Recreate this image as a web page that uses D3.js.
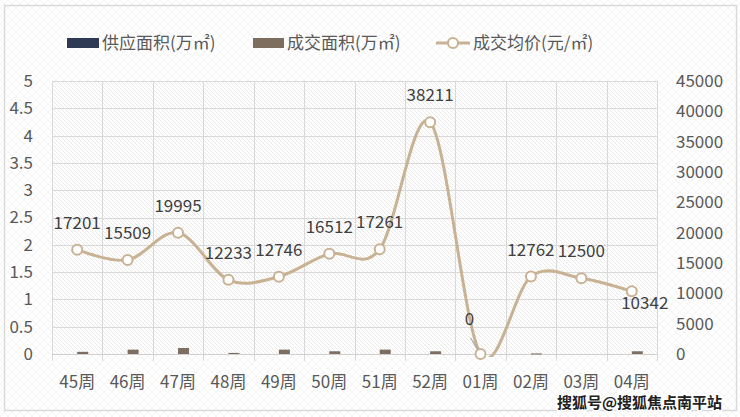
<!DOCTYPE html>
<html><head><meta charset="utf-8">
<script src="https://cdn.jsdelivr.net/npm/d3@7/dist/d3.min.js"></script>
<style>
html,body{margin:0;padding:0;background:#fff;}
svg{display:block;font-family:"Noto Sans CJK SC","Noto Sans",sans-serif;}
</style></head>
<body>
<svg id="chart" width="740" height="417"></svg>
<script>
// ---- data ----
const weeks = ["45周","46周","47周","48周","49周","50周","51周","52周","01周","02周","03周","04周"];
const supplyArea = [0,0,0,0,0,0,0,0,0,0,0,0];
const dealArea = [0.04,0.08,0.11,0.02,0.08,0.05,0.08,0.05,0,0.01,0,0.05];
const avgPrice = [17201,15509,19995,12233,12746,16512,17261,38211,0,12762,12500,10342];
const leftTicks = [0,0.5,1,1.5,2,2.5,3,3.5,4,4.5,5];
const rightTicks = [0,5000,10000,15000,20000,25000,30000,35000,40000,45000];
const seriesNames = ["供应面积(万㎡)","成交面积(万㎡)","成交均价(元/㎡)"];

// ---- layout ----
const W=740,H=417;
const plot={l:52,r:657,t:81,b:354};
const colSupply="#2E3A54", colDeal="#7D6E60", colLine="#C9B293";
const txt="#595959", lblCol="#404040", grid="#D9D9D9";

const svg=d3.select("#chart");
const defs=svg.append("defs");
const p1=defs.append("pattern").attr("id","cross").attr("patternUnits","userSpaceOnUse").attr("width",8).attr("height",8);
p1.append("rect").attr("width",8).attr("height",8).attr("fill","#fff");
p1.append("path").attr("d","M0,0L8,8M8,0L0,8").attr("stroke","#F1F1F1").attr("stroke-width",0.8);
const p2=defs.append("pattern").attr("id","diag").attr("patternUnits","userSpaceOnUse").attr("width",4).attr("height",4);
p2.append("rect").attr("width",4).attr("height",4).attr("fill","#fff");
p2.append("path").attr("d","M-1,-1L5,5M3,-1L5,1M-1,3L1,5").attr("stroke","#E4E4E4").attr("stroke-width",0.8);
defs.append("clipPath").attr("id","clipPlot").append("rect")
  .attr("x",plot.l-10).attr("y",plot.t-10).attr("width",plot.r-plot.l+20).attr("height",plot.b-plot.t+13);

svg.append("rect").attr("width",W).attr("height",H).attr("fill","url(#cross)");
svg.append("rect").attr("x",plot.l).attr("y",plot.t).attr("width",plot.r-plot.l).attr("height",plot.b-plot.t).attr("fill","url(#diag)");

// frame
svg.append("rect").attr("x",4.5).attr("y",5.5).attr("width",732).attr("height",405)
  .attr("fill","none").attr("stroke","#D9D9D9").attr("stroke-width",1.5);

// scales
const x=d3.scaleBand().domain(weeks).range([plot.l,plot.r]).padding(0);
const yL=d3.scaleLinear().domain([0,5]).range([plot.b,plot.t]);
const yR=d3.scaleLinear().domain([0,45000]).range([plot.b,plot.t]);
const inner=d3.scaleBand().domain(["s","d"]).range([-11,11]);

// gridlines
const g=svg.append("g");
leftTicks.forEach(t=>{
  g.append("line").attr("x1",plot.l).attr("x2",plot.r).attr("y1",Math.round(yL(t))+0.5).attr("y2",Math.round(yL(t))+0.5)
   .attr("stroke",grid).attr("stroke-width",1);
});
weeks.concat(["__end"]).forEach((w,i)=>{
  const xx=Math.round(plot.l+i*x.bandwidth())+0.5;
  g.append("line").attr("x1",xx).attr("x2",xx).attr("y1",plot.t).attr("y2",plot.b+7)
   .attr("stroke",grid).attr("stroke-width",1);
});

// left axis
const axL=svg.append("g").attr("transform",`translate(${plot.l},0)`)
  .call(d3.axisLeft(yL).tickValues(leftTicks).tickSize(0).tickPadding(19).tickFormat(d3.format("")));
axL.select(".domain").remove();
axL.selectAll("text").attr("font-size",17).attr("fill",txt).attr("font-family","'Noto Sans CJK SC',sans-serif");
// right axis
const axR=svg.append("g").attr("transform",`translate(${plot.r},0)`)
  .call(d3.axisRight(yR).tickValues(rightTicks).tickSize(0).tickPadding(19).tickFormat(d3.format("d")));
axR.select(".domain").remove();
axR.selectAll("text").attr("font-size",17).attr("fill",txt).attr("font-family","'Noto Sans CJK SC',sans-serif");
// bottom axis
const axB=svg.append("g").attr("transform",`translate(0,${plot.b})`)
  .call(d3.axisBottom(x).tickSize(0).tickPadding(22));
axB.select(".domain").attr("stroke","#D0D0D0");
axB.selectAll("text").attr("font-size",17).attr("fill",txt).attr("font-family","'Noto Sans CJK SC',sans-serif");

// bars
const bars=svg.append("g");
weeks.forEach((w,i)=>{
  const c=x(w)+x.bandwidth()/2;
  [["s",supplyArea[i],colSupply],["d",dealArea[i],colDeal]].forEach(([k,v,col])=>{
    if(v<=0) return;
    bars.append("rect").attr("x",c+inner(k)).attr("width",inner.bandwidth())
      .attr("y",yL(v)).attr("height",Math.max(1,yL(0)-yL(v))).attr("fill",col);
  });
});

// smooth line
const pts=avgPrice.map((v,i)=>[x(weeks[i])+x.bandwidth()/2,yR(v)]);
svg.append("path").attr("clip-path","url(#clipPlot)")
  .attr("d",d3.line().curve(d3.curveCardinal.tension(0))(pts))
  .attr("fill","none").attr("stroke",colLine).attr("stroke-width",3);

// leader line for "0"
const zi=8;
svg.append("line").attr("x1",pts[zi][0]-10).attr("y1",pts[zi][1]-16).attr("x2",pts[zi][0]-2).attr("y2",pts[zi][1]-3)
  .attr("stroke","#A6A6A6").attr("stroke-width",1.2);

svg.append("g").selectAll("circle").data(pts).join("circle")
  .attr("cx",d=>d[0]).attr("cy",d=>d[1]).attr("r",5)
  .attr("fill","#fff").attr("stroke",colLine).attr("stroke-width",2);

// data labels
const lblOff=avgPrice.map(()=>[0,-27]);
lblOff[8]=[-11,-35];
lblOff[11]=[13,12];
svg.append("g").selectAll("text").data(avgPrice).join("text")
  .attr("x",(d,i)=>pts[i][0]+lblOff[i][0]).attr("y",(d,i)=>pts[i][1]+lblOff[i][1])
  .attr("dy","0.36em").attr("text-anchor","middle").attr("font-size",17).attr("fill",lblCol)
  .text(d=>d);

// legend
const lg=svg.append("g");
lg.append("rect").attr("x",67).attr("y",38).attr("width",32).attr("height",10).attr("fill",colSupply);
lg.append("text").attr("x",102).attr("y",43).attr("dy","0.36em").attr("font-size",17).attr("fill",txt).text(seriesNames[0]);
lg.append("rect").attr("x",253).attr("y",38).attr("width",31).attr("height",10).attr("fill",colDeal);
lg.append("text").attr("x",287).attr("y",43).attr("dy","0.36em").attr("font-size",17).attr("fill",txt).text(seriesNames[1]);
lg.append("line").attr("x1",436).attr("x2",470).attr("y1",43).attr("y2",43).attr("stroke",colLine).attr("stroke-width",3);
lg.append("circle").attr("cx",453).attr("cy",43).attr("r",5).attr("fill","#fff").attr("stroke",colLine).attr("stroke-width",2);
lg.append("text").attr("x",473).attr("y",43).attr("dy","0.36em").attr("font-size",17).attr("fill",txt).text(seriesNames[2]);

// source watermark
svg.append("text").attr("x",722).attr("y",403).attr("dy","0.36em").attr("text-anchor","end")
  .attr("font-size",15).attr("font-weight","bold").attr("fill","#222")
  .attr("stroke","#fff").attr("stroke-width",3).attr("paint-order","stroke")
  .text("搜狐号@搜狐焦点南平站");
</script>
</body></html>
